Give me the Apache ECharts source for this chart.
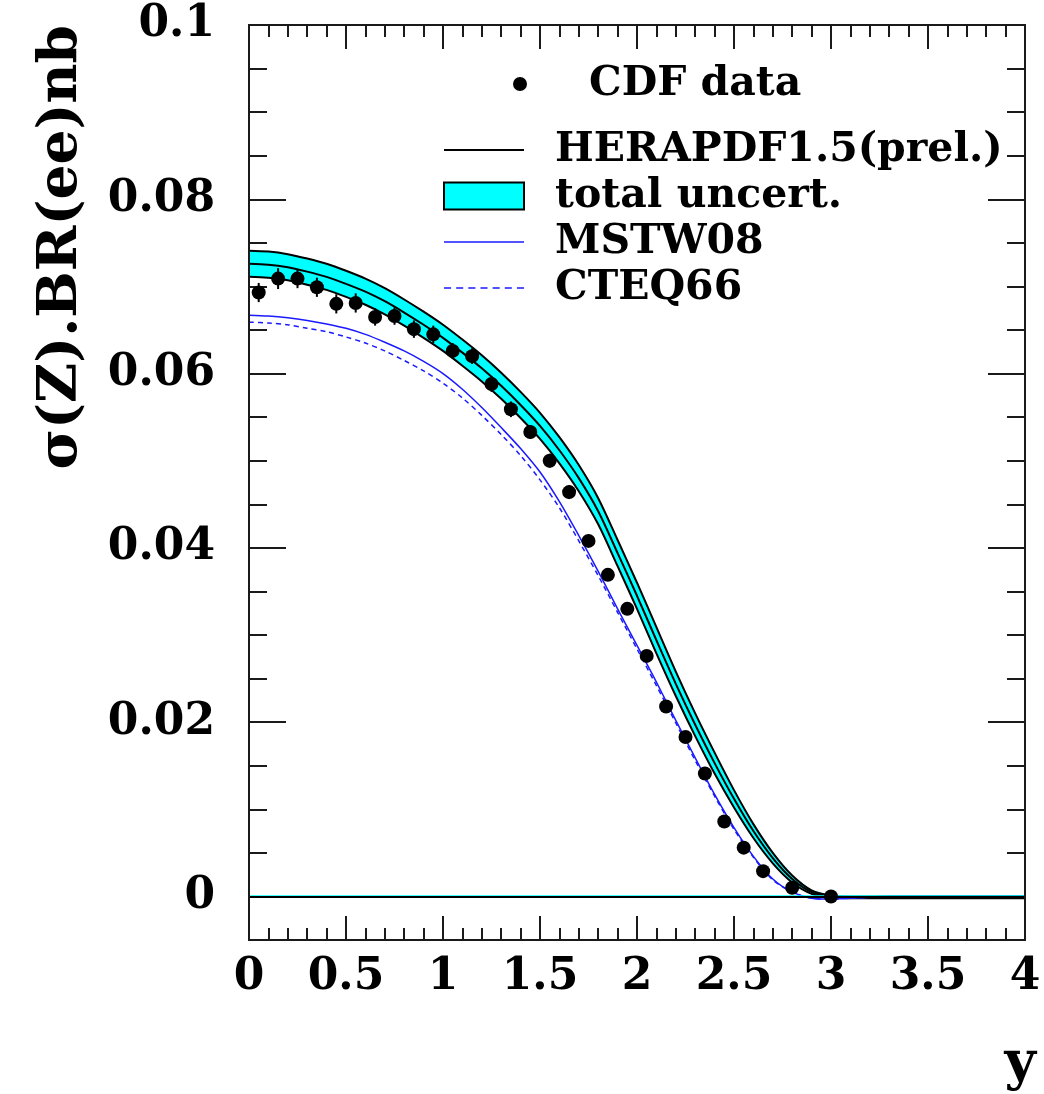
<!DOCTYPE html>
<html>
<head>
<meta charset="utf-8">
<script src="https://cdn.jsdelivr.net/npm/echarts@6/dist/echarts.min.js"></script>
<style>
  html, body { margin: 0; padding: 0; background: #fff; }
  #chart { width: 1044px; height: 1094px; }
</style>
</head>
<body>
<div id="chart"></div>
<script>
// ---- data ----
const yGrid = [0.0,0.1,0.2,0.3,0.4,0.5,0.6,0.7,0.8,0.9,1.0,1.1,1.2,1.3,1.4,1.5,1.6,1.7,1.8,1.9,2.0,
               2.1,2.2,2.3,2.4,2.5,2.6,2.7,2.8,2.9,3.0,3.1,3.2,3.3,3.4,3.5,3.6,3.7,3.8,3.9,4.0];

const heraCentral = [0.0726,0.0725,0.0722,0.0717,0.0711,0.0703,0.0694,0.0683,0.0670,0.0656,0.0641,
                     0.0624,0.0606,0.0586,0.0564,0.0540,0.0512,0.0480,0.0442,0.0394,0.0345,
                     0.0294,0.0244,0.0197,0.0153,0.0112,0.0075,0.0044,0.0020,0.0005,0.0000,
                     -0.0001,-0.0001,0.0000,0.0000,0.0000,0.0000,0.0000,0.0000,0.0000,0.0000];

const heraBandHigh = [0.0741,0.0740,0.0737,0.0732,0.0726,0.0718,0.0709,0.0698,0.0685,0.0671,0.0656,
                      0.0639,0.0621,0.0601,0.0579,0.0555,0.0527,0.0495,0.0457,0.0409,0.0360,
                      0.0309,0.0258,0.0210,0.0165,0.0122,0.0083,0.0050,0.0024,0.0007,0.0001,
                      0.0000,0.0000,0.0000,0.0000,0.0000,0.0000,0.0000,0.0000,0.0000,0.0000];

const heraBandLow = [0.0711,0.0710,0.0707,0.0702,0.0696,0.0688,0.0679,0.0668,0.0655,0.0641,0.0626,
                     0.0609,0.0591,0.0571,0.0549,0.0525,0.0497,0.0465,0.0427,0.0379,0.0330,
                     0.0279,0.0230,0.0184,0.0141,0.0102,0.0067,0.0038,0.0016,0.0003,-0.0001,
                     -0.0002,-0.0002,-0.0002,-0.0002,-0.0002,-0.0002,-0.0002,-0.0002,-0.0002,-0.0002];

const mstw08 = [0.0667,0.0666,0.0664,0.0661,0.0657,0.0652,0.0645,0.0636,0.0626,0.0614,0.0600,
                0.0582,0.0561,0.0538,0.0514,0.0487,0.0453,0.0414,0.0373,0.0330,0.0288,
                0.0246,0.0202,0.0159,0.0117,0.0079,0.0046,0.0020,0.0005,-0.0002,-0.0003,
                -0.0002,-0.0001,0.0000,0.0000,0.0000,0.0000,0.0000,0.0000,0.0000,0.0000];

const cteq66 = [0.0659,0.0658,0.0656,0.0652,0.0648,0.0642,0.0635,0.0626,0.0615,0.0603,0.0589,
                0.0572,0.0552,0.0530,0.0506,0.0478,0.0446,0.0408,0.0368,0.0326,0.0284,
                0.0242,0.0199,0.0156,0.0115,0.0077,0.0045,0.0019,0.0005,-0.0002,-0.0003,
                -0.0002,-0.0001,0.0000,0.0000,0.0000,0.0000,0.0000,0.0000,0.0000,0.0000];

const cdfY = [0.05,0.15,0.25,0.35,0.45,0.55,0.65,0.75,0.85,0.95,1.05,1.15,1.25,1.35,1.45,
              1.55,1.65,1.75,1.85,1.95,2.05,2.15,2.25,2.35,2.45,2.55,2.65,2.80,3.00];
const cdfSigma = [0.0693,0.0709,0.0709,0.0699,0.0680,0.0681,0.0665,0.0666,0.0651,0.0645,
                  0.0626,0.0620,0.0588,0.0559,0.0533,0.0500,0.0464,0.0408,0.0369,0.0330,
                  0.0276,0.0218,0.0183,0.0141,0.0086,0.0056,0.0029,0.0010,0.0000];
const cdfError = [0.0011,0.0012,0.0011,0.0011,0.0011,0.0011,0.0010,0.0010,0.0010,0.0010,
                  0.0009,0.0009,0.0009,0.0009,0.0008,0.0008,0.0008,0.0007,0.0007,0.0007,
                  0.0006,0.0006,0.0005,0.0005,0.0004,0.0004,0.0003,0.0003,0.0002];

const xMajorTicks = [0, 0.5, 1, 1.5, 2, 2.5, 3, 3.5, 4];
const yMajorTicks = [0, 0.02, 0.04, 0.06, 0.08, 0.1];

const legendNames = ['HERAPDF1.5(prel.)', 'total uncert.', 'MSTW08', 'CTEQ66'];
const dataName = 'CDF data';
const yTitle = 'σ(Z).BR(ee)nb';
const xTitle = 'y';

// ---- build chart ----
const pairs = arr => yGrid.map((x, i) => [x, arr[i]]);
const bandRows = yGrid.map((x, i) => [x, heraBandLow[i], heraBandHigh[i]]);
const errRows = cdfY.map((x, i) => [x, cdfSigma[i] - cdfError[i], cdfSigma[i] + cdfError[i]]);

const FONT = 'DejaVu Serif';
const frame = '#1a1a1a';
const CYAN = '#00ffff';
const BLUE = '#1a1aff';
const baseAxis = {
  type: 'value', min: 0, max: 4,
  splitLine: { show: false }, axisLine: { show: false, onZero: false },
  axisLabel: { show: false }
};
const yBase = {
  type: 'value', min: -0.005, max: 0.1,
  splitLine: { show: false }, axisLine: { show: false, onZero: false },
  axisLabel: { show: false }
};

function renderBand(params, api) {
  if (params.dataIndex !== 0) return null;
  const upper = bandRows.map(r => api.coord([r[0], r[2]]));
  const lower = bandRows.map(r => api.coord([r[0], r[1]])).reverse();
  return {
    type: 'polygon',
    shape: { points: upper.concat(lower) },
    style: { fill: CYAN, stroke: null }
  };
}

function renderErr(params, api) {
  const p1 = api.coord([api.value(0), api.value(1)]);
  const p2 = api.coord([api.value(0), api.value(2)]);
  return {
    type: 'line',
    shape: { x1: p1[0], y1: p1[1], x2: p2[0], y2: p2[1] },
    style: { stroke: '#000', lineWidth: 2 }
  };
}

const legendText = { fontFamily: FONT, fontWeight: 'bold', fontSize: 41, lineHeight: 38, color: '#000' };

const chart = echarts.init(document.getElementById('chart'), null, { renderer: 'canvas' });
chart.setOption({
  animation: false,
  backgroundColor: '#ffffff',
  grid: { left: 249, right: 19, top: 25, bottom: 154, show: true,
          borderColor: frame, borderWidth: 2, backgroundColor: 'transparent', z: 10 },
  xAxis: [
    Object.assign({}, baseAxis, { position: 'bottom', interval: 0.5,
      axisTick: { show: true, inside: true, length: 24, lineStyle: { color: frame, width: 2 } },
      axisLabel: { show: true, margin: 16,
                   formatter: v => (xMajorTicks.indexOf(v) >= 0 ? String(v) : ''),
                   fontFamily: FONT, fontWeight: 'bold', fontSize: 44, lineHeight: 44, color: '#000' } }),
    Object.assign({}, baseAxis, { position: 'bottom', interval: 0.1,
      axisTick: { show: true, inside: true, length: 12, lineStyle: { color: frame, width: 2 } } }),
    Object.assign({}, baseAxis, { position: 'top', interval: 0.5,
      axisTick: { show: true, inside: true, length: 24, lineStyle: { color: frame, width: 2 } } }),
    Object.assign({}, baseAxis, { position: 'top', interval: 0.1,
      axisTick: { show: true, inside: true, length: 12, lineStyle: { color: frame, width: 2 } } })
  ],
  yAxis: [
    Object.assign({}, yBase, { position: 'left',
      axisTick: { show: true, inside: true, length: 37, customValues: yMajorTicks,
                  lineStyle: { color: frame, width: 2 } },
      axisLabel: { show: true, customValues: yMajorTicks, margin: 34,
                   formatter: v => String(v),
                   fontFamily: FONT, fontWeight: 'bold', fontSize: 44, color: '#000' } }),
    Object.assign({}, yBase, { position: 'left', interval: 0.005,
      axisTick: { show: true, inside: true, length: 18, lineStyle: { color: frame, width: 2 } } }),
    Object.assign({}, yBase, { position: 'right',
      axisTick: { show: true, inside: true, length: 37, customValues: yMajorTicks,
                  lineStyle: { color: frame, width: 2 } } }),
    Object.assign({}, yBase, { position: 'right', interval: 0.005,
      axisTick: { show: true, inside: true, length: 18, lineStyle: { color: frame, width: 2 } } })
  ],
  legend: [
    {
      data: [{ name: dataName, icon: 'circle', itemStyle: { color: '#000', borderWidth: 0, opacity: 1 } }],
      orient: 'vertical', left: 508, top: 56,
      itemWidth: 14, itemHeight: 14, itemGap: 0,
      textStyle: Object.assign({}, legendText, { padding: [8, 0, 0, 57] })
    },
    {
      data: [
        { name: legendNames[0], icon: 'path://M0,0H80V2H0Z',
          itemStyle: { color: '#000', borderWidth: 0 } },
        { name: legendNames[1], icon: 'rect',
          itemStyle: { color: CYAN, borderColor: '#000', borderWidth: 2, opacity: 1 } },
        { name: legendNames[2], icon: 'path://M0,0H80V1.6H0Z',
          itemStyle: { color: BLUE, borderWidth: 0 } },
        { name: legendNames[3],
          icon: 'path://M0,0h7v1.6h-7z M12,0h7v1.6h-7z M24,0h7v1.6h-7z M36,0h7v1.6h-7z M48,0h7v1.6h-7z M60,0h7v1.6h-7z M72,0h7v1.6h-7z',
          itemStyle: { color: BLUE, borderWidth: 0 } }
      ],
      orient: 'vertical', left: 438, top: 122,
      itemWidth: 80, itemHeight: 27, itemGap: 0,
      textStyle: Object.assign({}, legendText, { padding: [8, 0, 0, 26] })
    }
  ],
  graphic: [
    { type: 'text', x: 62, y: 25, rotation: Math.PI / 2,
      style: { text: yTitle, fill: '#000', font: 'bold 55px "DejaVu Serif"',
               align: 'right', verticalAlign: 'middle' } },
    { type: 'text', x: 1036, y: 1092,
      style: { text: xTitle, fill: '#000', font: 'bold 54px "DejaVu Serif"',
               align: 'right', verticalAlign: 'bottom' } }
  ],
  series: [
    { name: legendNames[1], type: 'custom', data: bandRows, renderItem: renderBand,
      encode: { x: 0, y: [1, 2] }, itemStyle: { color: CYAN }, z: 1, silent: true },
    { name: 'bandLow', type: 'line', data: pairs(heraBandLow),
      showSymbol: false, symbol: 'none', smooth: 0.3,
      lineStyle: { color: '#000', width: 2 }, z: 2, silent: true },
    { name: 'bandHigh', type: 'line', data: pairs(heraBandHigh),
      showSymbol: false, symbol: 'none', smooth: 0.3,
      lineStyle: { color: '#000', width: 2 }, z: 2, silent: true },
    { name: legendNames[0], type: 'line', data: pairs(heraCentral),
      showSymbol: false, symbol: 'none', smooth: 0.3,
      lineStyle: { color: '#000', width: 2 }, itemStyle: { color: '#000' }, z: 3, silent: true,
      markLine: { silent: true, symbol: 'none', label: { show: false }, animation: false,
        data: [
          { yAxis: -0.0003, lineStyle: { color: CYAN, width: 2.5, type: 'solid' } },
          { yAxis: 0, lineStyle: { color: '#000', width: 2, type: 'solid' } }
        ] } },
    { name: legendNames[2], type: 'line', data: pairs(mstw08),
      showSymbol: false, symbol: 'none', smooth: 0.3,
      lineStyle: { color: BLUE, width: 1.5 }, itemStyle: { color: BLUE }, z: 3, silent: true },
    { name: legendNames[3], type: 'line', data: pairs(cteq66),
      showSymbol: false, symbol: 'none', smooth: 0.3,
      lineStyle: { color: BLUE, width: 1.5, type: [5, 4] }, itemStyle: { color: BLUE }, z: 3, silent: true },
    { name: 'cdfErr', type: 'custom', data: errRows, renderItem: renderErr,
      encode: { x: 0, y: [1, 2] }, z: 5, silent: true },
    { name: dataName, type: 'scatter', data: cdfY.map((x, i) => [x, cdfSigma[i]]),
      symbol: 'circle', symbolSize: 14, itemStyle: { color: '#000', opacity: 1 }, z: 6, silent: true }
  ]
});
</script>
</body>
</html>
